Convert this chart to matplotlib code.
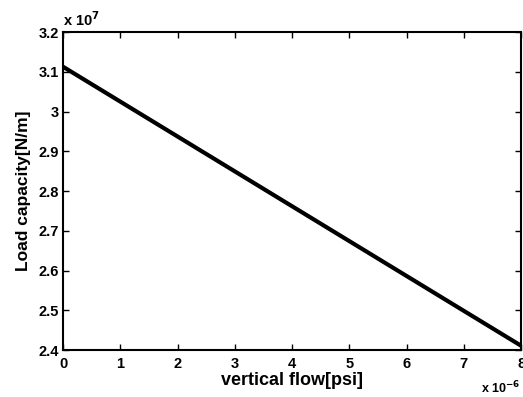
import matplotlib
matplotlib.use("AGG")
import matplotlib.pyplot as plt
from matplotlib.ticker import FuncFormatter, MultipleLocator

# vertical flow [psi] and load capacity [N/m]
flow = [0.0, 8e-6]
load = [3.113e7, 2.411e7]

plt.rcParams['font.family'] = ['Liberation Sans', 'DejaVu Sans']
plt.rcParams['font.weight'] = 'bold'

fig = plt.figure(figsize=(5.23, 3.97), dpi=100)
ax = fig.add_axes([0.1205, 0.118, 0.876, 0.801])

ax.plot(flow, load, color='black', linewidth=3)

ax.set_xlim(0, 8e-6)
ax.set_ylim(2.4e7, 3.2e7)
ax.xaxis.set_major_locator(MultipleLocator(1e-6))
ax.yaxis.set_major_locator(MultipleLocator(0.1e7))
ax.xaxis.set_major_formatter(FuncFormatter(lambda v, p: '%g' % round(v / 1e-6, 6)))
ax.yaxis.set_major_formatter(FuncFormatter(lambda v, p: '%g' % round(v / 1e7, 6)))

ax.tick_params(direction='in', top=True, right=True, length=4, width=1,
               labelsize=10.5)
ax.tick_params(axis='x', pad=5)
ax.tick_params(axis='y', pad=3)
for lab in ax.get_xticklabels() + ax.get_yticklabels():
    lab.set_fontweight('bold')
for s in ax.spines.values():
    s.set_linewidth(1.5)

ax.set_xlabel('vertical flow[psi]', fontsize=13, fontweight='bold', labelpad=1)
ax.set_ylabel('Load capacity[N/m]', fontsize=12.5, fontweight='bold', labelpad=5)

ax.text(0.0, 1.01, r'x 10$^{7}$', transform=ax.transAxes, fontsize=10.5,
        fontweight='bold', ha='left', va='bottom')
fig.text(0.995, 0.003, r'x 10$^{-6}$', fontsize=9,
         fontweight='bold', ha='right', va='bottom')

fig.savefig('out.png', dpi=100)
